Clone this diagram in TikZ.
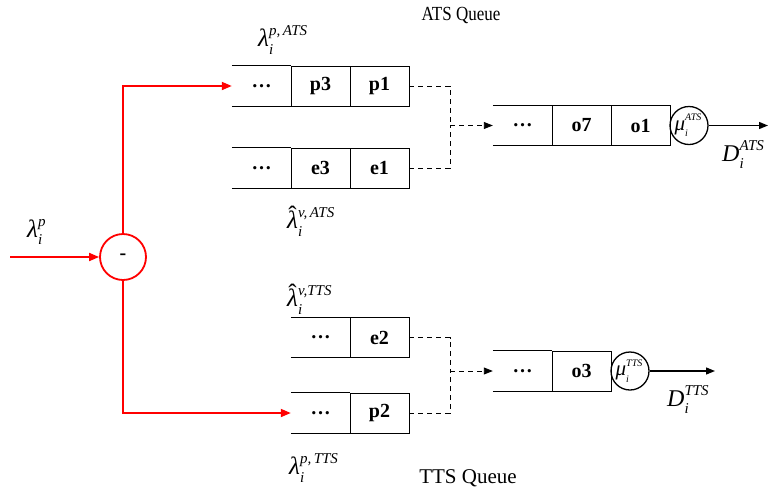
\documentclass[tikz,border=0pt]{standalone}
\usepackage{fontspec}
\setmainfont{Liberation Serif}
\usetikzlibrary{arrows.meta,calc}
\newcommand\lam{\textit{λ}}
\newcommand\hlam{\ooalign{\textit{λ}\cr\hidewidth\raisebox{.2em}{ˆ}\hidewidth\cr}}
\newcommand\supsub[4][15]{#2\makebox[0pt][l]{\raisebox{-.3em}{\fontsize{#1}{#1}\selectfont\itshape #3}}\raisebox{.45em}{\fontsize{#1}{#1}\selectfont\itshape #4}}
\begin{document}
\begin{tikzpicture}[x=1pt,y=-1pt,
  cell/.style={minimum width=59pt,minimum height=40pt,inner sep=0pt,font=\fontsize{20}{22}\selectfont\bfseries},
  boxed/.style={cell,draw,line width=0.9pt},
  lbl/.style={inner sep=0pt,font=\fontsize{25}{27}\selectfont},
  dline/.style={line width=0.9pt,dash pattern=on 5pt off 4pt},
  tip/.style={-{Triangle[length=9pt,width=7pt]}},
  redline/.style={red,line width=1.8pt,-{Triangle[length=10pt,width=8pt]}},
  srv/.style={circle,draw,line width=1.3pt,minimum size=38pt,inner sep=0pt,font=\fontsize{21}{21}\selectfont}]
\useasboundingbox (0,0) rectangle (769,496);
% ATS input queues
\node[cell] (pAd) at (261.5,86) {…};
\node[boxed] (p3) at (320.5,86) {p3};
\node[boxed] (p1) at (379.5,86) {p1};
\node[cell] (eAd) at (261.5,168) {…};
\node[boxed] (e3) at (320.5,168) {e3};
\node[boxed] (e1) at (379.5,168) {e1};
% ATS output queue
\node[cell] (oAd) at (522.5,125.5) {…};
\node[boxed] (o7) at (581.5,125.5) {o7};
\node[boxed] (o1) at (640.5,125.5) {o1};
\node[srv] (muA) at (689,125.5) {\hspace*{-2pt}\supsub[10]{\textit{μ}}{i}{ATS}};
% TTS input queues
\node[cell] (eTd) at (320.5,337.5) {…};
\node[boxed] (e2) at (379.5,337.5) {e2};
\node[cell] (pTd) at (320.5,413) {…};
\node[boxed] (p2) at (379.5,413) {p2};
% TTS output queue
\node[cell] (oTd) at (522.5,371) {…};
\node[boxed] (o3) at (581.5,371) {o3};
\node[srv] (muT) at (630,371) {\hspace*{-2pt}\supsub[10]{\textit{μ}}{i}{TTS}};
% open-left cells: top and bottom borders
\foreach \n in {pAd,eAd,oAd,eTd,pTd,oTd}{
  \draw[line width=0.9pt] (\n.north west) -- (\n.north east) (\n.south west) -- (\n.south east);
}
% splitter
\node[circle,draw=red,line width=1.8pt,minimum size=46pt,inner sep=0pt,font=\fontsize{20}{20}\selectfont\bfseries] (minus) at (123,257) {-};
\coordinate (in) at (10,257);
\draw[redline] (in) -- (minus.west);
\draw[redline] (minus.north) |- (pAd.west);
\draw[redline] (minus.south) |- (pTd.west);
% merges
\coordinate (jA) at (450,125.5);
\coordinate (jT) at (450,371);
\draw[dline] (p1.east) -| (jA);
\draw[dline] (e1.east) -| (jA);
\draw[dline,tip] (jA) -- (oAd.west);
\draw[dline] (e2.east) -| (jT);
\draw[dline] (p2.east) -| (jT);
\draw[dline,tip] (jT) -- (oTd.west);
% outputs
\coordinate (outA) at (768,125.5);
\coordinate (outT) at (715,371);
\draw[line width=1.3pt,tip] (muA.east) -- (outA);
\draw[line width=1.3pt,tip] (muT.east) -- (outT);
% labels
\node[lbl,font=\fontsize{20}{22}\selectfont,xscale=0.85] (tA) at (461,15) {ATS Queue};
\node[lbl,font=\fontsize{21}{24}\selectfont] (tT) at (468,478) {TTS Queue};
\node[lbl,anchor=west] (lp) at (27,232) {\supsub{\lam}{i}{p}};
\node[lbl,anchor=west] (lpA) at (258,40) {\supsub{\lam}{i}{p,\,ATS}};
\node[lbl,anchor=west] (lvA) at (287,222) {\supsub{\hlam}{i}{v,\,ATS}};
\node[lbl,anchor=west] (lvT) at (287,300) {\supsub{\hlam}{i}{v,TTS}};
\node[lbl,anchor=west] (lpT) at (289,468) {\supsub{\lam}{i}{p,\,TTS}};
\node[lbl,anchor=west,font=\fontsize{24}{26}\selectfont] (DA) at (722,155) {\supsub{\textit{D}}{i}{ATS}};
\node[lbl,anchor=west,font=\fontsize{24}{26}\selectfont] (DT) at (667,400) {\supsub{\textit{D}}{i}{TTS}};
\end{tikzpicture}
\end{document}
